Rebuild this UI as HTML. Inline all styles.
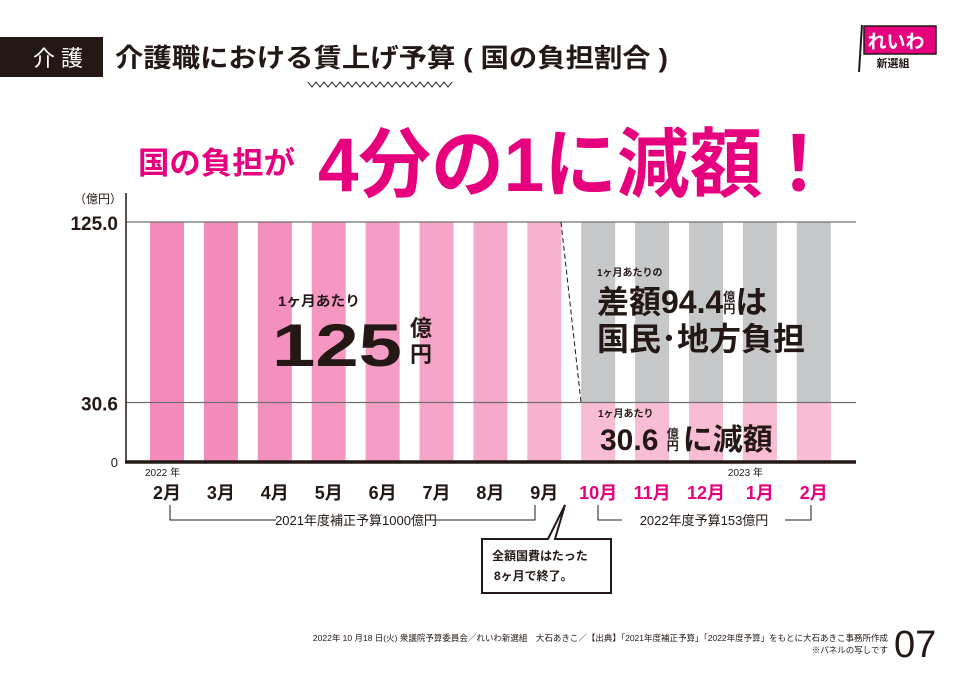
<!DOCTYPE html>
<html><head><meta charset="utf-8">
<style>
html,body{margin:0;padding:0;background:#fff;}
svg{display:block;font-family:"Liberation Sans","Noto Sans CJK JP",sans-serif;}
</style></head>
<body>
<svg id="chart" width="957" height="673" viewBox="0 0 957 673" xmlns="http://www.w3.org/2000/svg">
  <!-- header -->
  <rect x="0" y="37" width="103" height="40" fill="#231815"/>
  <text x="58" y="66" fill="#fff" font-size="22" text-anchor="middle">介 護</text>
  <text x="115" y="67" fill="#231815" font-size="26" font-weight="bold" textLength="553" lengthAdjust="spacingAndGlyphs">介護職における賃上げ予算 ( 国の負担割合 )</text>
  <path d="M308 82 l4 5 l4 -5 l4 5 l4 -5 l4 5 l4 -5 l4 5 l4 -5 l4 5 l4 -5 l4 5 l4 -5 l4 5 l4 -5 l4 5 l4 -5 l4 5 l4 -5 l4 5 l4 -5 l4 5 l4 -5 l4 5 l4 -5 l4 5 l4 -5 l4 5 l4 -5 l4 5 l4 -5 l4 5 l4 -5 l4 5 l4 -5 l4 5 l4 -5" fill="none" stroke="#231815" stroke-width="1"/>
  <g>
    <line x1="862" y1="25" x2="859" y2="72" stroke="#231815" stroke-width="2"/>
    <rect x="864" y="26" width="72" height="28" fill="#e6007e" stroke="#231815" stroke-width="1.5"/>
    <text x="896" y="48" fill="#fff" font-size="19" font-weight="bold" text-anchor="middle">れいわ</text>
    <text x="893" y="67" fill="#231815" font-size="11" font-weight="bold" text-anchor="middle">新選組</text>
  </g>
  <!-- headline -->
  <text x="138" y="174" fill="#e6007e" font-size="31" font-weight="bold" textLength="157" lengthAdjust="spacingAndGlyphs">国の負担が</text>
  <text x="318" y="191" fill="#e6007e" font-size="76" font-weight="bold" textLength="517" lengthAdjust="spacingAndGlyphs">4分の1に減額！</text>

  <!-- axes -->
  <text x="122" y="203" fill="#231815" font-size="12" text-anchor="end">（億円）</text>
  <g id="bars"></g>
  <g id="grid"></g>
  <line x1="126" y1="193" x2="126" y2="462" stroke="#231815" stroke-width="1.5"/>
  <line x1="125" y1="462" x2="856" y2="462" stroke="#231815" stroke-width="3.5"/>
  <g id="yticks"></g>
  <g id="xlabels"></g>

  <!-- annotations -->
  <text x="278" y="306" fill="#231815" font-size="14" font-weight="bold" textLength="82" lengthAdjust="spacingAndGlyphs">1ヶ月あたり</text>
  <text x="272" y="366" fill="#231815" font-size="60" font-weight="bold" textLength="130" lengthAdjust="spacingAndGlyphs">125</text>
  <text x="410" y="336" fill="#231815" font-size="22" font-weight="bold">億</text>
  <text x="410" y="362" fill="#231815" font-size="22" font-weight="bold">円</text>

  <text x="597" y="276" fill="#231815" font-size="10" font-weight="bold">1ヶ月あたりの</text>
  <text x="597" y="313" fill="#231815" font-size="32" font-weight="bold"><tspan>差額94.4</tspan><tspan font-size="12" dy="-12">億</tspan><tspan font-size="12" dx="-12" dy="12">円</tspan><tspan font-size="32">は</tspan></text>
  <text x="597" y="350" fill="#231815" font-size="32" font-weight="bold" textLength="208" lengthAdjust="spacingAndGlyphs">国民･地方負担</text>
  <text x="598" y="417" fill="#231815" font-size="10" font-weight="bold">1ヶ月あたり</text>
  <text x="600" y="450" fill="#231815" font-size="30" font-weight="bold">30.6 <tspan font-size="12" dy="-12">億</tspan><tspan font-size="12" dx="-12" dy="12">円</tspan><tspan font-size="30" dx="4">に減額</tspan></text>

  <line x1="561" y1="222" x2="581" y2="402" stroke="#231815" stroke-width="1" stroke-dasharray="5,3"/>

  <!-- brackets -->
  <path d="M170 505 V520 H276 M435 520 H535 V505" fill="none" stroke="#231815" stroke-width="1"/>
  <text x="356" y="525" fill="#231815" font-size="13" text-anchor="middle">2021年度補正予算1000億円</text>
  <path d="M598 505 V520 H622 M785 520 H811 V505" fill="none" stroke="#231815" stroke-width="1"/>
  <text x="704" y="525" fill="#231815" font-size="13" text-anchor="middle">2022年度予算153億円</text>

  <!-- callout -->
  <path d="M482 539 H548 L565 505 L555 539 H611 V593 H482 Z" fill="#fff" stroke="#231815" stroke-width="2"/>
  <text x="492" y="560" fill="#231815" font-size="12" font-weight="bold">全額国費はたった</text>
  <text x="494" y="580" fill="#231815" font-size="12" font-weight="bold">8ヶ月で終了。</text>

  <!-- footer -->
  <text x="888" y="641" fill="#231815" font-size="8.5" text-anchor="end">2022年 10 月18 日(火) 衆議院予算委員会／れいわ新選組　大石あきこ／【出典】「2021年度補正予算」「2022年度予算」をもとに大石あきこ事務所作成</text>
  <text x="888" y="653" fill="#231815" font-size="8.5" text-anchor="end">※パネルの写しです</text>
  <text x="894" y="657" fill="#231815" font-size="38">07</text>
</svg>
<script>
const months = ["2月","3月","4月","5月","6月","7月","8月","9月","10月","11月","12月","1月","2月"];
const totalValues = [125,125,125,125,125,125,125,125,125,125,125,125,125];
const nationalValues = [125,125,125,125,125,125,125,125,30.6,30.6,30.6,30.6,30.6];
const yTickValues = [0,30.6,125];
const yTickLabels = ["0","30.6","125.0"];
const yearLabels = [[0,"2022 年"],[11,"2023 年"]];

const NS = "http://www.w3.org/2000/svg";
const y0 = 461, yTop = 222, yMax = 125;
function yScale(v){ return y0 - v / yMax * (y0 - yTop); }
function xScale(i){ return 150 + i * 53.9; }
const barW = 34;
const pinkGrad = ["#f48bba","#f48cbb","#f490bd","#f597c1","#f59dc4","#f6a4c8","#f6aacb","#f7b2d0"];

const bars = document.getElementById("bars");
months.forEach((m, i) => {
  const x = xScale(i);
  if (totalValues[i] > nationalValues[i]) {
    const g = document.createElementNS(NS, "rect");
    g.setAttribute("x", x); g.setAttribute("width", barW);
    g.setAttribute("y", yScale(totalValues[i]));
    g.setAttribute("height", yScale(nationalValues[i]) - yScale(totalValues[i]));
    g.setAttribute("fill", "#c6c7c8");
    
    
    bars.appendChild(g);
  }
  const r = document.createElementNS(NS, "rect");
  r.setAttribute("x", x); r.setAttribute("width", barW);
  r.setAttribute("y", yScale(nationalValues[i]));
  r.setAttribute("height", y0 - yScale(nationalValues[i]));
  r.setAttribute("fill", i < 8 ? pinkGrad[i] : "#f8bcd5");
  
  
  bars.appendChild(r);

  const t = document.createElementNS(NS, "text");
  t.setAttribute("x", x + barW / 2);
  t.setAttribute("y", 499);
  t.setAttribute("text-anchor", "middle");
  t.setAttribute("font-size", "18");
  t.setAttribute("font-weight", "bold");
  t.setAttribute("fill", i < 8 ? "#231815" : "#e6007e");
  t.textContent = m;
  
  
  document.getElementById("xlabels").appendChild(t);
});

yearLabels.forEach(([i, lab]) => {
  const t = document.createElementNS(NS, "text");
  t.setAttribute("x", xScale(i) + (i === 0 ? -5 : -15));
  t.setAttribute("y", 476);
  t.setAttribute("font-size", "10");
  t.setAttribute("fill", "#231815");
  t.textContent = lab;
  
  
  document.getElementById("xlabels").appendChild(t);
});

const grid = document.getElementById("grid");
const yt = document.getElementById("yticks");
yTickValues.forEach((v, k) => {
  if (v > 0) {
    const l = document.createElementNS(NS, "line");
    l.setAttribute("x1", 126); l.setAttribute("x2", 856);
    l.setAttribute("y1", yScale(v)); l.setAttribute("y2", yScale(v));
    l.setAttribute("stroke", "#6f6f6f"); l.setAttribute("stroke-width", "1.2");
    
    
    grid.appendChild(l);
  }
  const t = document.createElementNS(NS, "text");
  t.setAttribute("x", 118);
  t.setAttribute("y", yScale(v) + (v === 0 ? 6 : 8));
  t.setAttribute("text-anchor", "end");
  t.setAttribute("font-size", v === 0 ? "13" : "19");
  t.setAttribute("font-weight", v === 0 ? "normal" : "bold");
  t.setAttribute("fill", "#231815");
  t.textContent = yTickLabels[k];
  
  
  yt.appendChild(t);
});
</script>
</body></html>
